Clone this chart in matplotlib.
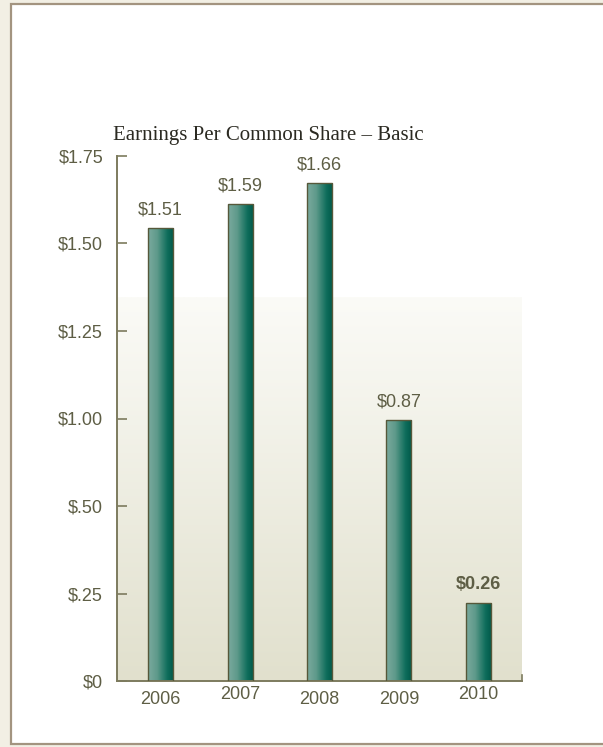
#!/usr/bin/env python

"""Earnings per common share (basic), 2006-2010, as a bar chart
with shaded bars on a fading background."""

import matplotlib
matplotlib.use('Agg')
import matplotlib.pyplot as plt
import matplotlib.transforms as mtransforms
from matplotlib.colors import LinearSegmentedColormap
from matplotlib.patches import Rectangle
import numpy as np

YEARS = ['2006', '2007', '2008', '2009', '2010']
EPS = [1.51, 1.59, 1.66, 0.87, 0.26]
EPS_LABELS = ['$1.51', '$1.59', '$1.66', '$0.87', '$0.26']
# seven evenly spaced gridline labels up to the $1.75 top of the scale
Y_TICK_LABELS = ['$0', '$.25', '$.50', '$1.00', '$1.25', '$1.50', '$1.75']
Y_MAX = 1.75

TEXT_COLOR = '#5e5e45'
AXIS_COLOR = '#7d7b5e'
PAGE_COLOR = '#f2efe4'
FRAME_COLOR = '#a39480'

plt.rcParams['font.family'] = ['Liberation Sans', 'DejaVu Sans']

fig = plt.figure(figsize=(6.03, 7.47), dpi=100)
fig.patch.set_facecolor(PAGE_COLOR)

# white page panel with a thin brown frame, kept underneath the axes
fig.patches.append(Rectangle((11 / 603, 3 / 747), 1.2, 1 - 7 / 747,
                             transform=fig.transFigure, facecolor='white',
                             edgecolor=FRAME_COLOR, linewidth=1.6,
                             zorder=-10))

ax = fig.add_axes([117 / 603, 66 / 747, 405 / 603, 525 / 747])
ax.set_facecolor('none')

# soft background fading from white into beige toward the baseline
bg_cmap = LinearSegmentedColormap.from_list('bg', ['#fbfbf7', '#e1e0cd'])
bg = np.linspace(0, 1, 256).reshape(-1, 1)
ax.imshow(bg, cmap=bg_cmap, aspect='auto', origin='upper',
          extent=(-0.55, 4.55, 0, 1.28), zorder=0)

# bars: outline first, then a horizontal teal gradient clipped to each bar
bar_cmap = LinearSegmentedColormap.from_list(
    'bar', [(0.0, '#7aaa9e'), (0.35, '#5f9a8b'), (0.75, '#0f6e5c'),
            (1.0, '#005848')])
bars = ax.bar(range(len(YEARS)), EPS, width=0.315, facecolor='none',
              edgecolor='#56583a', linewidth=1.0, zorder=3)
grad = np.linspace(0, 1, 64).reshape(1, -1)
for b in bars:
    x0, w, h = b.get_x(), b.get_width(), b.get_height()
    im = ax.imshow(grad, cmap=bar_cmap, aspect='auto',
                   extent=(x0, x0 + w, 0, h), zorder=2)
    im.set_clip_path(b)

ax.set_xlim(-0.55, 4.55)
ax.set_ylim(0, Y_MAX)

for i, (v, lab) in enumerate(zip(EPS, EPS_LABELS)):
    ax.annotate(lab, (i, v), xytext=(0, 7), textcoords='offset points',
                ha='center', va='bottom', fontsize=13, color=TEXT_COLOR,
                fontweight='bold' if i == len(EPS) - 1 else 'normal')

ax.set_yticks(np.linspace(0, Y_MAX, len(Y_TICK_LABELS)))
ax.set_yticklabels(Y_TICK_LABELS)
ax.set_xticks(range(len(YEARS)))
ax.set_xticklabels(YEARS)
ax.tick_params(axis='y', direction='in', length=7, width=1.2,
               color=AXIS_COLOR, labelsize=13, labelcolor=TEXT_COLOR, pad=10)
ax.tick_params(axis='x', length=0, labelsize=13, labelcolor=TEXT_COLOR,
               pad=7)

# stagger a couple of the year labels slightly upward
for i in (1, 4):
    lbl = ax.get_xticklabels()[i]
    lbl.set_transform(lbl.get_transform() + mtransforms.ScaledTranslation(
        0, 5 / 100, fig.dpi_scale_trans))

for side in ('top', 'right'):
    ax.spines[side].set_visible(False)
for side in ('left', 'bottom'):
    ax.spines[side].set_color(AXIS_COLOR)
    ax.spines[side].set_linewidth(1.4)

# small closing tick at the right end of the baseline
ax.plot([4.55, 4.55], [0, 0.02], color=AXIS_COLOR, lw=1.2,
        clip_on=False, zorder=4)

fig.text(113 / 603, 1 - 140 / 747, 'Earnings Per Common Share \u2013 Basic',
         family=['Liberation Serif', 'DejaVu Serif'], fontsize=15,
         color='#2b2a22', ha='left', va='baseline')

fig.savefig('out.png', dpi=100, facecolor=fig.get_facecolor())
